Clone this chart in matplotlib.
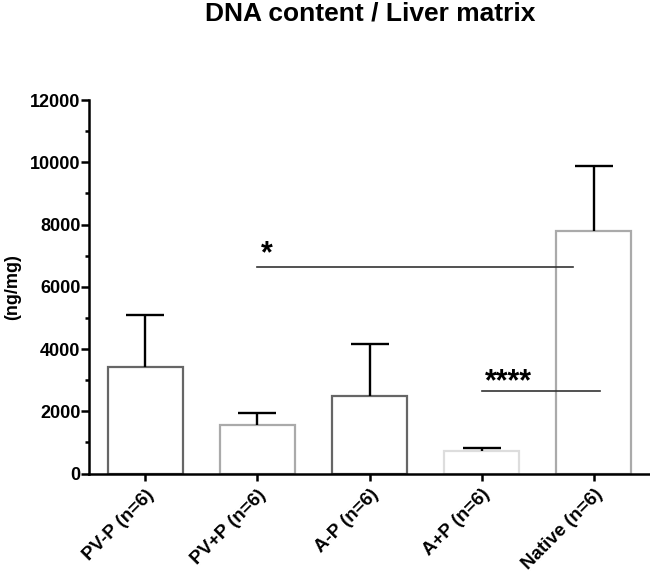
import numpy as np
import matplotlib
matplotlib.use('Agg')
import matplotlib.pyplot as plt

plt.rcParams['font.family'] = ['Liberation Sans', 'DejaVu Sans']
plt.rcParams['font.weight'] = 'bold'

# data
groups = ['PV-P (n=6)', 'PV+P (n=6)', 'A-P (n=6)', 'A+P (n=6)', 'Native (n=6)']
means = [3430, 1560, 2490, 715, 7795]
sem = [1650, 375, 1690, 110, 2085]
edge_colors = ['#666666', '#aaaaaa', '#666666', '#dddddd', '#aaaaaa']

# significance lines: (x start, x end, y, label)
sig_marks = [(1.0, 3.81, 6640, '*'), (3.0, 4.05, 2650, '****')]

fig = plt.figure(figsize=(6.5, 5.72), dpi=100)
ax = fig.add_axes([0.137, 0.172, 0.863, 0.653])

x = np.arange(len(groups))
ax.bar(x, means, width=0.67, color='white', edgecolor=edge_colors,
       linewidth=1.6, zorder=2)
eb = ax.errorbar(x, means, yerr=[np.zeros(len(sem)), sem], fmt='none',
                 ecolor='black', elinewidth=1.7, capsize=13.5, capthick=1.7,
                 zorder=3)
# only the upper cap is drawn in the reference
eb[1][0].set_visible(False)

# star baseline offset from the line, in pixels
px = 12000 / 374.0
offsets = [5, 1]
for (x0, x1, y, lab), off in zip(sig_marks, offsets):
    ax.plot([x0, x1], [y, y], color='#333333', linewidth=1.2, zorder=4)
    ax.text(x0 + 0.03, y + off * px, lab, ha='left', va='baseline',
            fontsize=22, fontweight='bold', zorder=4)

ax.set_xlim(-0.5, 4.5)
ax.set_ylim(0, 12000)
ax.set_yticks(np.arange(0, 12001, 2000))
ax.set_yticks(np.arange(1000, 12000, 2000), minor=True)
ax.set_xticks(x)
ax.set_xticklabels(groups, rotation=45, ha='right', rotation_mode='anchor',
                   fontsize=13.5, fontweight='bold')
for lab in ax.get_yticklabels():
    lab.set_fontsize(13)
    lab.set_fontweight('bold')

ax.spines['top'].set_visible(False)
ax.spines['right'].set_visible(False)
ax.spines['left'].set_linewidth(1.8)
ax.spines['bottom'].set_linewidth(1.8)
ax.tick_params(axis='y', which='major', length=5.8, width=1.8, pad=0.5)
ax.tick_params(axis='y', which='minor', length=3, width=1.8)
ax.tick_params(axis='x', which='major', length=5, width=1.8, pad=4)

ax.set_ylabel('(ng/mg)', fontsize=13, fontweight='bold', labelpad=6)

fig.text(0.569, 0.977, 'DNA content / Liver matrix', ha='center', va='center',
         fontsize=19, fontweight='bold')

fig.savefig('out.png', dpi=100)
